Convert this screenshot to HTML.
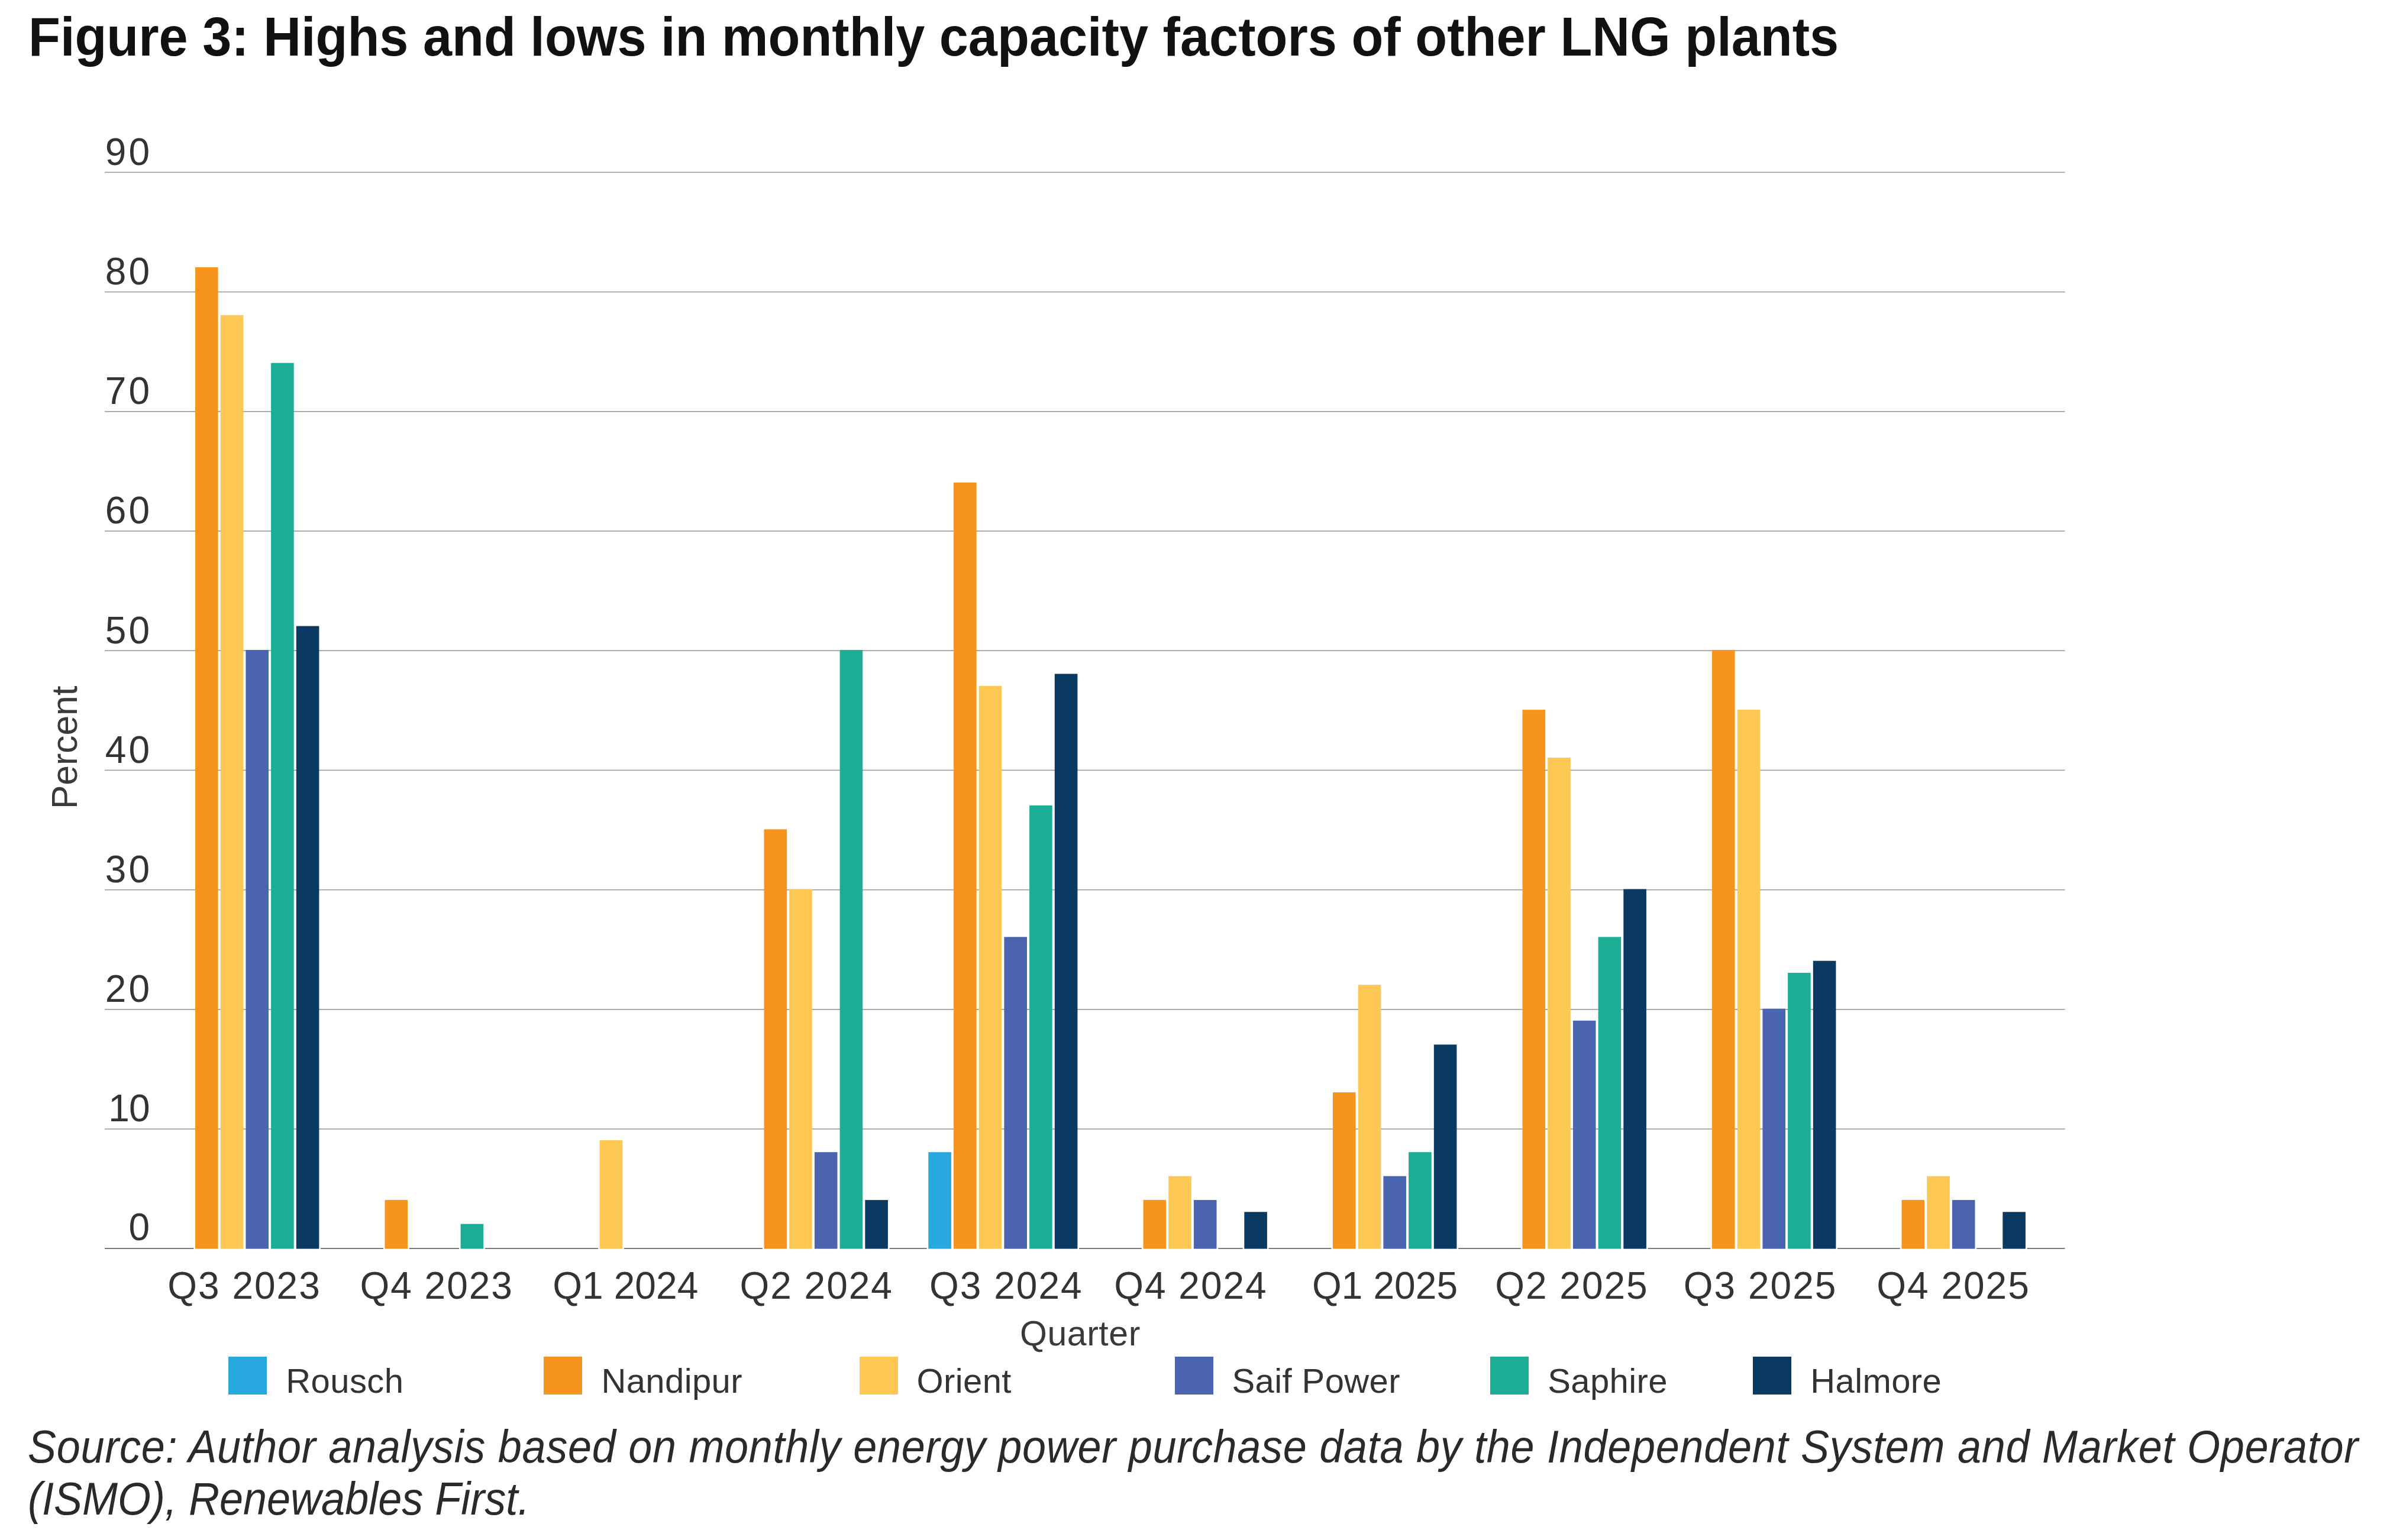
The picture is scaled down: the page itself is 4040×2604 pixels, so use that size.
<!DOCTYPE html>
<html><head><meta charset="utf-8"><style>
html,body{margin:0;padding:0;background:#fff;}
body{width:4040px;height:2604px;position:relative;overflow:hidden;font-family:"Liberation Sans",sans-serif;}
.t{position:absolute;white-space:nowrap;}
#title{left:48.3px;top:0px;font-weight:bold;font-size:92.5px;color:#111;line-height:125px;transform:scaleX(0.9542);transform-origin:0 0;}
.yl{position:absolute;right:3783px;font-size:64px;line-height:46px;height:46px;color:#333;letter-spacing:4px;}
.xl{position:absolute;width:400px;text-align:center;top:2138.5px;font-size:64px;line-height:70px;color:#333;letter-spacing:2px;}
#ytitle{position:absolute;left:0;top:0;font-size:60.5px;color:#3a3a3a;transform-origin:0 0;}
#xtitle{left:1724px;top:2220.5px;font-size:59px;color:#3a3a3a;letter-spacing:0.55px;}
.lsq{position:absolute;top:2294px;width:65px;height:64px;}
.ltx{position:absolute;top:2302px;font-size:58px;line-height:66px;color:#333;letter-spacing:0.4px;white-space:nowrap;}
#src{left:47px;top:2402.2px;font-style:italic;font-size:72px;line-height:82.9px;color:#2a2a2a;transform:scaleY(1.07);transform-origin:0 0;}
svg{position:absolute;left:0;top:0;}
</style></head><body>
<div class="t" id="title">Figure 3: Highs and lows in monthly capacity factors of other LNG plants</div>
<svg width="4040" height="2604" viewBox="0 0 4040 2604">
<rect x="177" y="1908.2" width="3313.5" height="1.6" fill="#999"/>
<rect x="177" y="1706.0" width="3313.5" height="1.6" fill="#999"/>
<rect x="177" y="1503.8" width="3313.5" height="1.6" fill="#999"/>
<rect x="177" y="1301.6" width="3313.5" height="1.6" fill="#999"/>
<rect x="177" y="1099.4" width="3313.5" height="1.6" fill="#999"/>
<rect x="177" y="897.2" width="3313.5" height="1.6" fill="#999"/>
<rect x="177" y="695.0" width="3313.5" height="1.6" fill="#999"/>
<rect x="177" y="492.8" width="3313.5" height="1.6" fill="#999"/>
<rect x="177" y="290.6" width="3313.5" height="1.6" fill="#999"/>
<rect x="177" y="2110.2" width="3313.5" height="1.8" fill="#6e6e6e"/>
<rect x="327.4" y="2108.0" width="43.8" height="5" fill="#fff"/>
<rect x="370.1" y="2108.0" width="43.8" height="5" fill="#fff"/>
<rect x="412.8" y="2108.0" width="43.8" height="5" fill="#fff"/>
<rect x="455.5" y="2108.0" width="43.8" height="5" fill="#fff"/>
<rect x="498.2" y="2108.0" width="43.8" height="5" fill="#fff"/>
<rect x="647.9" y="2108.0" width="43.8" height="5" fill="#fff"/>
<rect x="776.0" y="2108.0" width="43.8" height="5" fill="#fff"/>
<rect x="1011.1" y="2108.0" width="43.8" height="5" fill="#fff"/>
<rect x="1288.9" y="2108.0" width="43.8" height="5" fill="#fff"/>
<rect x="1331.6" y="2108.0" width="43.8" height="5" fill="#fff"/>
<rect x="1374.3" y="2108.0" width="43.8" height="5" fill="#fff"/>
<rect x="1417.0" y="2108.0" width="43.8" height="5" fill="#fff"/>
<rect x="1459.7" y="2108.0" width="43.8" height="5" fill="#fff"/>
<rect x="1566.7" y="2108.0" width="43.8" height="5" fill="#fff"/>
<rect x="1609.4" y="2108.0" width="43.8" height="5" fill="#fff"/>
<rect x="1652.1" y="2108.0" width="43.8" height="5" fill="#fff"/>
<rect x="1694.8" y="2108.0" width="43.8" height="5" fill="#fff"/>
<rect x="1737.5" y="2108.0" width="43.8" height="5" fill="#fff"/>
<rect x="1780.2" y="2108.0" width="43.8" height="5" fill="#fff"/>
<rect x="1929.9" y="2108.0" width="43.8" height="5" fill="#fff"/>
<rect x="1972.6" y="2108.0" width="43.8" height="5" fill="#fff"/>
<rect x="2015.3" y="2108.0" width="43.8" height="5" fill="#fff"/>
<rect x="2100.7" y="2108.0" width="43.8" height="5" fill="#fff"/>
<rect x="2250.4" y="2108.0" width="43.8" height="5" fill="#fff"/>
<rect x="2293.1" y="2108.0" width="43.8" height="5" fill="#fff"/>
<rect x="2335.8" y="2108.0" width="43.8" height="5" fill="#fff"/>
<rect x="2378.5" y="2108.0" width="43.8" height="5" fill="#fff"/>
<rect x="2421.2" y="2108.0" width="43.8" height="5" fill="#fff"/>
<rect x="2570.9" y="2108.0" width="43.8" height="5" fill="#fff"/>
<rect x="2613.6" y="2108.0" width="43.8" height="5" fill="#fff"/>
<rect x="2656.3" y="2108.0" width="43.8" height="5" fill="#fff"/>
<rect x="2699.0" y="2108.0" width="43.8" height="5" fill="#fff"/>
<rect x="2741.7" y="2108.0" width="43.8" height="5" fill="#fff"/>
<rect x="2891.4" y="2108.0" width="43.8" height="5" fill="#fff"/>
<rect x="2934.1" y="2108.0" width="43.8" height="5" fill="#fff"/>
<rect x="2976.8" y="2108.0" width="43.8" height="5" fill="#fff"/>
<rect x="3019.5" y="2108.0" width="43.8" height="5" fill="#fff"/>
<rect x="3062.2" y="2108.0" width="43.8" height="5" fill="#fff"/>
<rect x="3211.9" y="2108.0" width="43.8" height="5" fill="#fff"/>
<rect x="3254.6" y="2108.0" width="43.8" height="5" fill="#fff"/>
<rect x="3297.3" y="2108.0" width="43.8" height="5" fill="#fff"/>
<rect x="3382.7" y="2108.0" width="43.8" height="5" fill="#fff"/>
<rect x="330.0" y="452.0" width="38.6" height="1659.6" fill="#F7941E"/>
<rect x="372.7" y="532.8" width="38.6" height="1578.8" fill="#FDC854"/>
<rect x="415.4" y="1099.0" width="38.6" height="1012.6" fill="#4A64B0"/>
<rect x="458.1" y="613.7" width="38.6" height="1497.9" fill="#1BAE95"/>
<rect x="500.8" y="1058.6" width="38.6" height="1053.0" fill="#0A3A62"/>
<rect x="650.5" y="2029.1" width="38.6" height="82.5" fill="#F7941E"/>
<rect x="778.6" y="2069.6" width="38.6" height="42.0" fill="#1BAE95"/>
<rect x="1013.7" y="1928.0" width="38.6" height="183.6" fill="#FDC854"/>
<rect x="1291.5" y="1402.3" width="38.6" height="709.3" fill="#F7941E"/>
<rect x="1334.2" y="1503.4" width="38.6" height="608.2" fill="#FDC854"/>
<rect x="1376.9" y="1948.2" width="38.6" height="163.4" fill="#4A64B0"/>
<rect x="1419.6" y="1099.0" width="38.6" height="1012.6" fill="#1BAE95"/>
<rect x="1462.3" y="2029.1" width="38.6" height="82.5" fill="#0A3A62"/>
<rect x="1569.3" y="1948.2" width="38.6" height="163.4" fill="#29A8E0"/>
<rect x="1612.0" y="815.9" width="38.6" height="1295.7" fill="#F7941E"/>
<rect x="1654.7" y="1159.7" width="38.6" height="951.9" fill="#FDC854"/>
<rect x="1697.4" y="1584.3" width="38.6" height="527.3" fill="#4A64B0"/>
<rect x="1740.1" y="1361.9" width="38.6" height="749.7" fill="#1BAE95"/>
<rect x="1782.8" y="1139.4" width="38.6" height="972.2" fill="#0A3A62"/>
<rect x="1932.5" y="2029.1" width="38.6" height="82.5" fill="#F7941E"/>
<rect x="1975.2" y="1988.7" width="38.6" height="122.9" fill="#FDC854"/>
<rect x="2017.9" y="2029.1" width="38.6" height="82.5" fill="#4A64B0"/>
<rect x="2103.3" y="2049.3" width="38.6" height="62.3" fill="#0A3A62"/>
<rect x="2253.0" y="1847.1" width="38.6" height="264.5" fill="#F7941E"/>
<rect x="2295.7" y="1665.2" width="38.6" height="446.4" fill="#FDC854"/>
<rect x="2338.4" y="1988.7" width="38.6" height="122.9" fill="#4A64B0"/>
<rect x="2381.1" y="1948.2" width="38.6" height="163.4" fill="#1BAE95"/>
<rect x="2423.8" y="1766.3" width="38.6" height="345.3" fill="#0A3A62"/>
<rect x="2573.5" y="1200.1" width="38.6" height="911.5" fill="#F7941E"/>
<rect x="2616.2" y="1281.0" width="38.6" height="830.6" fill="#FDC854"/>
<rect x="2658.9" y="1725.8" width="38.6" height="385.8" fill="#4A64B0"/>
<rect x="2701.6" y="1584.3" width="38.6" height="527.3" fill="#1BAE95"/>
<rect x="2744.3" y="1503.4" width="38.6" height="608.2" fill="#0A3A62"/>
<rect x="2894.0" y="1099.0" width="38.6" height="1012.6" fill="#F7941E"/>
<rect x="2936.7" y="1200.1" width="38.6" height="911.5" fill="#FDC854"/>
<rect x="2979.4" y="1705.6" width="38.6" height="406.0" fill="#4A64B0"/>
<rect x="3022.1" y="1644.9" width="38.6" height="466.7" fill="#1BAE95"/>
<rect x="3064.8" y="1624.7" width="38.6" height="486.9" fill="#0A3A62"/>
<rect x="3214.5" y="2029.1" width="38.6" height="82.5" fill="#F7941E"/>
<rect x="3257.2" y="1988.7" width="38.6" height="122.9" fill="#FDC854"/>
<rect x="3299.9" y="2029.1" width="38.6" height="82.5" fill="#4A64B0"/>
<rect x="3385.3" y="2049.3" width="38.6" height="62.3" fill="#0A3A62"/>
</svg>
<div class="yl" style="top:2052.1px">0</div>
<div class="yl" style="top:1851.4px;letter-spacing:-1px;right:3787.5px">10</div>
<div class="yl" style="top:1649.2px">20</div>
<div class="yl" style="top:1447.0px">30</div>
<div class="yl" style="top:1244.8px">40</div>
<div class="yl" style="top:1042.6px">50</div>
<div class="yl" style="top:840.4px">60</div>
<div class="yl" style="top:638.2px">70</div>
<div class="yl" style="top:436.0px">80</div>
<div class="yl" style="top:233.8px">90</div>
<div class="t" id="ytitle" style="transform:translate(74px,1368px) rotate(-90deg)">Percent</div>
<div class="xl" style="left:213px">Q3 2023</div>
<div class="xl" style="left:538.2px">Q4 2023</div>
<div class="xl" style="left:857.3px;letter-spacing:0.1px">Q1 2024</div>
<div class="xl" style="left:1180.2px">Q2 2024</div>
<div class="xl" style="left:1500.8px">Q3 2024</div>
<div class="xl" style="left:1812.9px">Q4 2024</div>
<div class="xl" style="left:2141.1px;letter-spacing:0.1px">Q1 2025</div>
<div class="xl" style="left:2456.9px">Q2 2025</div>
<div class="xl" style="left:2775.6px">Q3 2025</div>
<div class="xl" style="left:3102px">Q4 2025</div>
<div class="t" id="xtitle">Quarter</div>
<div class="lsq" style="left:386.3px;background:#29A8E0"></div>
<div class="ltx" style="left:483.3px">Rousch</div>
<div class="lsq" style="left:919.4px;background:#F7941E"></div>
<div class="ltx" style="left:1016.4px">Nandipur</div>
<div class="lsq" style="left:1452.5px;background:#FDC854"></div>
<div class="ltx" style="left:1549.5px">Orient</div>
<div class="lsq" style="left:1985.5px;background:#4A64B0"></div>
<div class="ltx" style="left:2082.5px">Saif Power</div>
<div class="lsq" style="left:2519.2px;background:#1BAE95"></div>
<div class="ltx" style="left:2616.2px">Saphire</div>
<div class="lsq" style="left:2963.2px;background:#0A3A62"></div>
<div class="ltx" style="left:3060.2px">Halmore</div>
<div class="t" id="src"><span style="letter-spacing:0.71px">Source: Author analysis based on monthly energy power purchase data by the Independent System and Market Operator</span><br>(ISMO), Renewables First.</div>
</body></html>
